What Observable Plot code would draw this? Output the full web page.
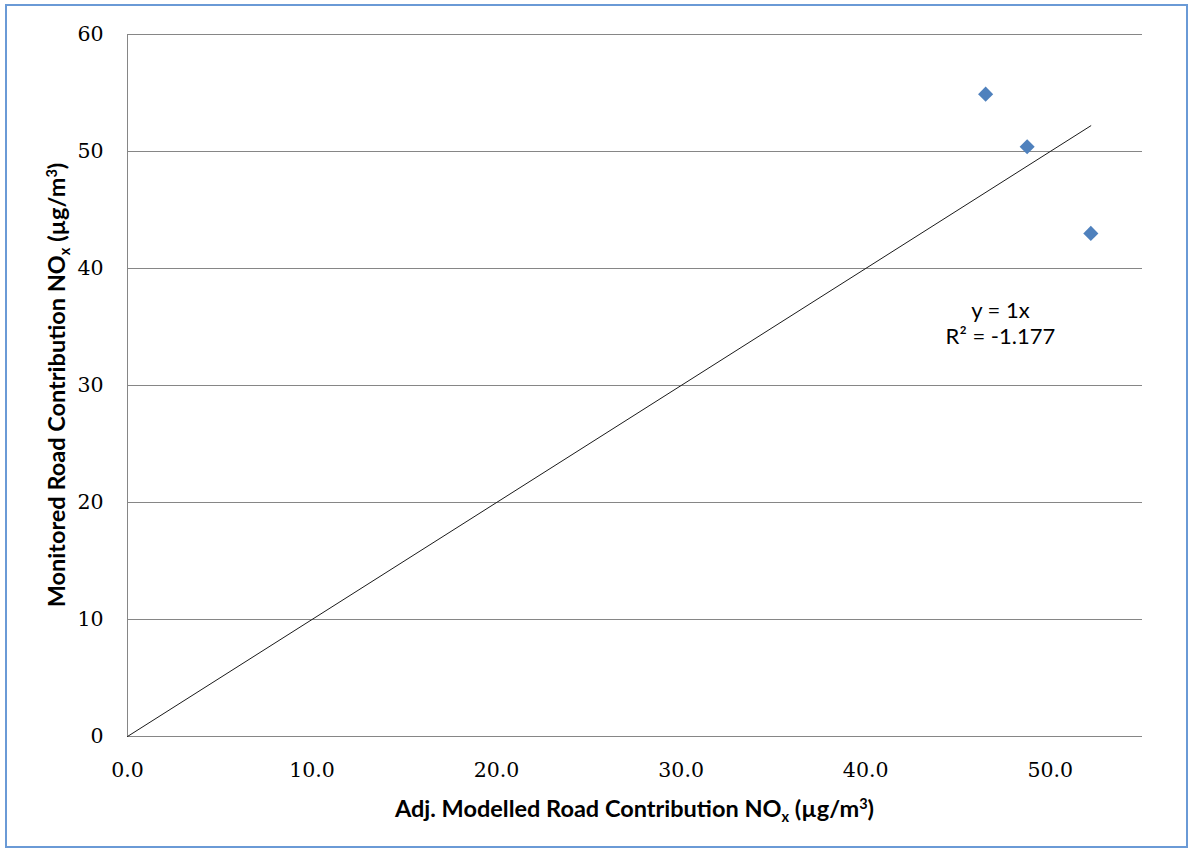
<!DOCTYPE html>
<html>
<head>
<meta charset="utf-8">
<script src="https://cdn.jsdelivr.net/npm/d3@7"></script>
<script src="https://cdn.jsdelivr.net/npm/@observablehq/plot@0.6"></script>
<style>
  html, body { margin: 0; padding: 0; background: #fff; }
  #wrap { position: relative; width: 1192px; height: 853px; overflow: hidden; }
  #frame { position: absolute; left: 5px; top: 4px; width: 1183px; height: 844px;
           border: 2px solid #6a9ad6; box-sizing: border-box; pointer-events: none; }
</style>
</head>
<body>
<div id="wrap"><div id="frame"></div></div>
<script>
// Data
const modelled = [46.5, 48.75, 52.2];      // Adj. Modelled Road Contribution NOx
const monitored = [54.9, 50.4, 43.0];      // Monitored Road Contribution NOx
const xTicks = [0, 10, 20, 30, 40, 50];
const yTicks = [0, 10, 20, 30, 40, 50, 60];
const slope = 1;
const rSquared = "-1.177";
const annotX = [47.3];
const annotY = [35.4];

const points = modelled.map((x, i) => ({x, y: monitored[i]}));
const xMax = d3.max(modelled);
const trend = [0, xMax].map(x => ({x, y: slope * x}));
const annot = [{x: annotX[0], y: annotY[0], label: `y = ${slope}x\nR² = ${rSquared}`}];

const serif = "'DejaVu Serif', 'Liberation Serif', serif";
const sans = "Lato, 'Open Sans', 'DejaVu Sans', sans-serif";

const plot = Plot.plot({
  width: 1192, height: 853,
  marginLeft: 127, marginRight: 50, marginTop: 34, marginBottom: 117,
  x: {domain: [0, 55], label: null},
  y: {domain: [0, 60], label: null},
  style: {background: "transparent", color: "#000", fontFamily: serif, fontSize: "20px"},
  marks: [
    Plot.gridY(yTicks, {stroke: "#868686", strokeOpacity: 1, strokeWidth: 1}),
    Plot.ruleX([0], {stroke: "#868686", strokeWidth: 1}),
    Plot.axisX({ticks: xTicks, tickSize: 0, tickPadding: 26, tickFormat: d => d.toFixed(1),
                fontSize: 20.5, fontFamily: serif, label: null}),
    Plot.axisY({ticks: yTicks, tickSize: 0, tickPadding: 24, fontSize: 20.5, fontFamily: serif, label: null}),
    Plot.line(trend, {x: "x", y: "y", stroke: "#1a1a1a", strokeWidth: 1}),
    Plot.dot(points, {x: "x", y: "y", symbol: "diamond2", r: 6.8, fill: "#4f81bd", stroke: "none"}),
    Plot.text(annot, {x: "x", y: "y", text: "label", fontFamily: sans, fontSize: 22,
                      lineHeight: 1.2, textAnchor: "middle", fill: "#000"})
  ]
});

document.getElementById("wrap").prepend(plot);

// Axis titles with subscript / superscript
const svg = d3.select(plot);
const xr = plot.scale("x").range, yr = plot.scale("y").range;
const cx = (xr[0] + xr[1]) / 2, cy = (yr[0] + yr[1]) / 2;

function title(sel, before) {
  sel.attr("font-family", sans).attr("font-weight", "bold").attr("font-size", 23.5)
     .attr("text-anchor", "middle").attr("fill", "#000");
  sel.append("tspan").text(before + "NO");
  sel.append("tspan").attr("font-size", 14.5).attr("dy", 5).text("x");
  sel.append("tspan").attr("dy", -5).text(" (µg/m");
  sel.append("tspan").attr("font-size", 14.5).attr("dy", -8).text("3");
  sel.append("tspan").attr("dy", 8).text(")");
}
title(svg.append("text").attr("x", cx).attr("y", 817), "Adj. Modelled Road Contribution ");
title(svg.append("text").attr("transform", `translate(65,${cy}) rotate(-90)`), "Monitored Road Contribution ");
</script>
</body>
</html>
